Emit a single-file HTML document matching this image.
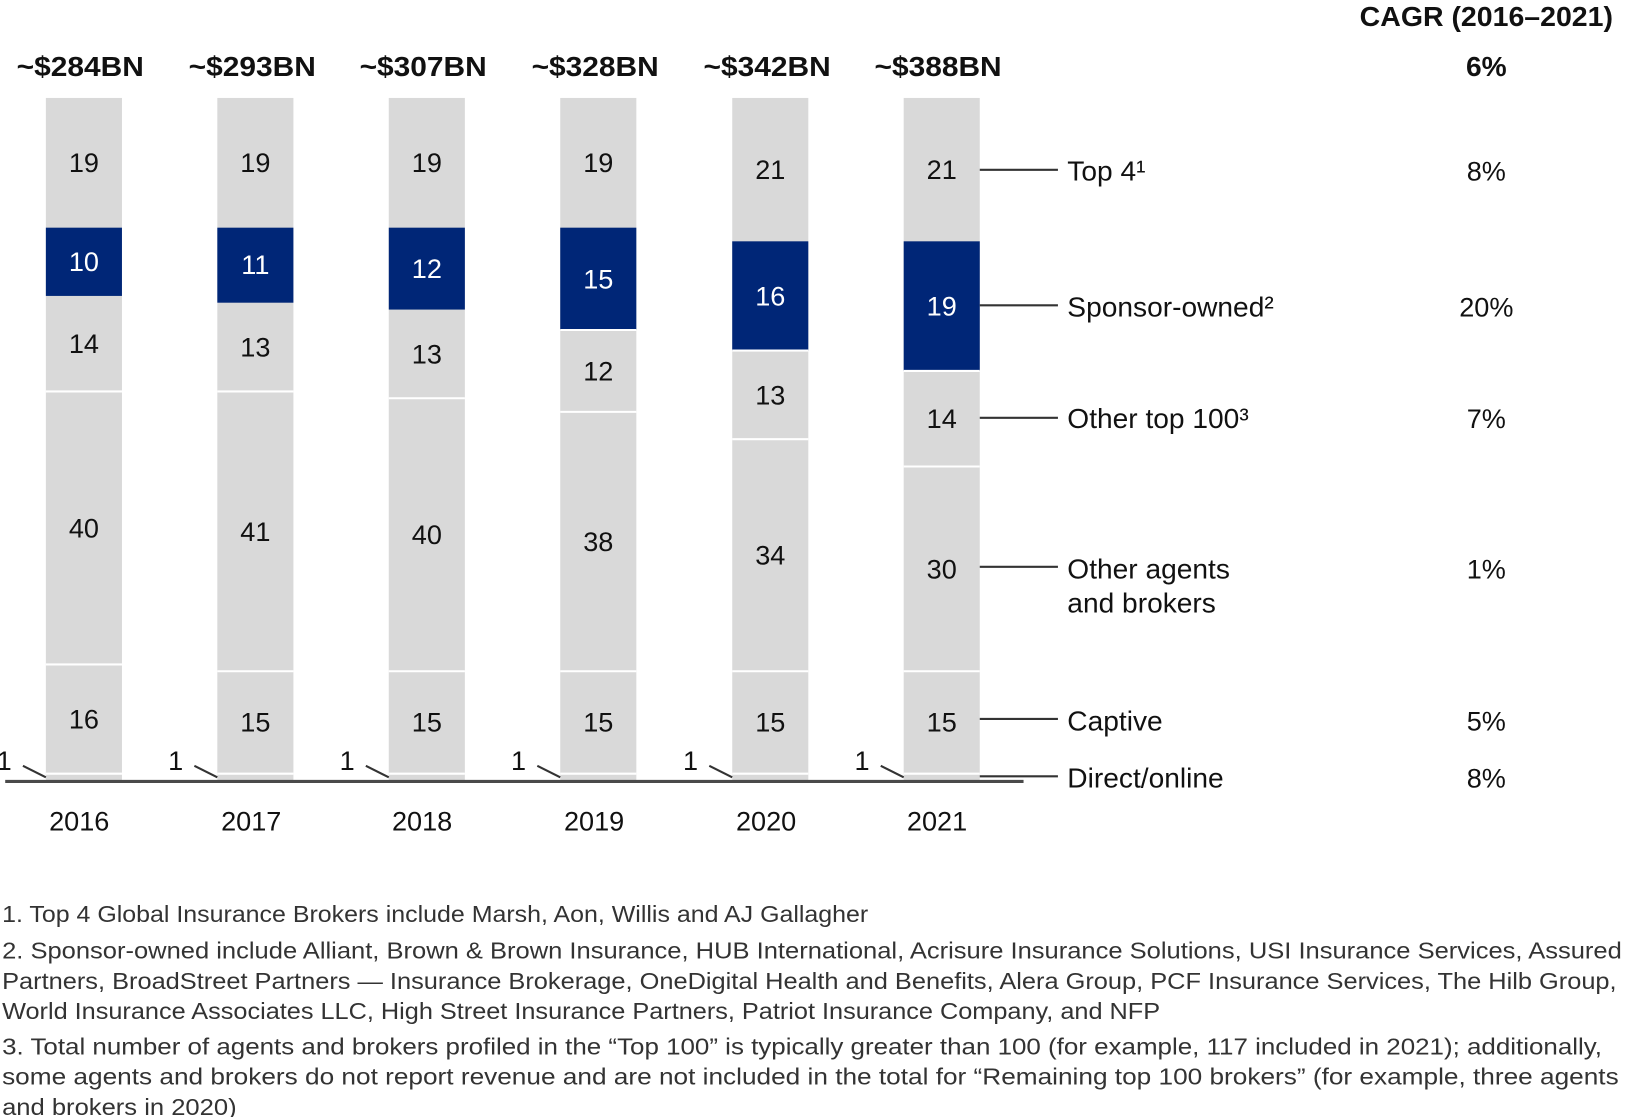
<!DOCTYPE html>
<html><head><meta charset="utf-8"><style>html,body{margin:0;padding:0;background:#fff}svg{display:block}</style></head>
<body>
<svg width="1626" height="1117" viewBox="0 0 1560 1072" preserveAspectRatio="none" xmlns="http://www.w3.org/2000/svg" font-family="Liberation Sans, sans-serif">
<defs>
<g id="base"><rect x="0" y="94" width="73" height="655" fill="#d9d9d9"/><text x="-40" y="739" font-size="26" fill="#111">1</text><line x1="-22" y1="735" x2="0" y2="746" stroke="#333" stroke-width="2"/><line x1="0" x2="73" y1="742.5" y2="742.5" stroke="#fff" stroke-width="2"/></g>
<line id="c15" x1="0" x2="73" y1="644.2" y2="644.2" stroke="#fff" stroke-width="2"/>
</defs>
<g font-size="26" fill="#111" text-anchor="middle">
<g transform="translate(44,0)"><use href="#base"/><rect x="0" y="218.5" width="73" height="65.5" fill="#002677"/><line x1="0" x2="73" y1="637.7" y2="637.7" stroke="#fff" stroke-width="2"/><line x1="0" x2="73" y1="375.7" y2="375.7" stroke="#fff" stroke-width="2"/>
<text x="36.5" y="699">16</text><text x="36.5" y="516">40</text><text x="36.5" y="339">14</text><text x="36.5" y="260" fill="#fff">10</text><text x="36.5" y="165">19</text></g>
<g transform="translate(208.5,0)"><use href="#base"/><use href="#c15"/><rect x="0" y="218.5" width="73" height="72" fill="#002677"/><line x1="0" x2="73" y1="375.7" y2="375.7" stroke="#fff" stroke-width="2"/>
<text x="36.5" y="702">15</text><text x="36.5" y="519">41</text><text x="36.5" y="342">13</text><text x="36.5" y="263" fill="#fff">11</text><text x="36.5" y="165">19</text></g>
<g transform="translate(373,0)"><use href="#base"/><use href="#c15"/><rect x="0" y="218.5" width="73" height="78.6" fill="#002677"/><line x1="0" x2="73" y1="382.2" y2="382.2" stroke="#fff" stroke-width="2"/>
<text x="36.5" y="702">15</text><text x="36.5" y="522">40</text><text x="36.5" y="349">13</text><text x="36.5" y="267" fill="#fff">12</text><text x="36.5" y="165">19</text></g>
<g transform="translate(537.5,0)"><use href="#base"/><use href="#c15"/><rect x="0" y="218.5" width="73" height="98.2" fill="#002677"/><line x1="0" x2="73" y1="316.7" y2="316.7" stroke="#fff" stroke-width="2"/><line x1="0" x2="73" y1="395.3" y2="395.3" stroke="#fff" stroke-width="2"/>
<text x="36.5" y="702">15</text><text x="36.5" y="529">38</text><text x="36.5" y="365">12</text><text x="36.5" y="277" fill="#fff">15</text><text x="36.5" y="165">19</text></g>
<g transform="translate(702.5,0)"><use href="#base"/><use href="#c15"/><rect x="0" y="231.6" width="73" height="104.8" fill="#002677"/><line x1="0" x2="73" y1="336.4" y2="336.4" stroke="#fff" stroke-width="2"/><line x1="0" x2="73" y1="421.5" y2="421.5" stroke="#fff" stroke-width="2"/>
<text x="36.5" y="702">15</text><text x="36.5" y="542">34</text><text x="36.5" y="388">13</text><text x="36.5" y="293" fill="#fff">16</text><text x="36.5" y="172">21</text></g>
<g transform="translate(867,0)"><use href="#base"/><use href="#c15"/><rect x="0" y="231.6" width="73" height="124.4" fill="#002677"/><line x1="0" x2="73" y1="356" y2="356" stroke="#fff" stroke-width="2"/><line x1="0" x2="73" y1="447.7" y2="447.7" stroke="#fff" stroke-width="2"/>
<text x="36.5" y="702">15</text><text x="36.5" y="555">30</text><text x="36.5" y="411">14</text><text x="36.5" y="303" fill="#fff">19</text><text x="36.5" y="172">21</text></g>
</g>
<line x1="5" y1="750" x2="982" y2="750" stroke="#4a4a4a" stroke-width="3"/>
<g font-size="27" fill="#111" text-anchor="middle" font-weight="bold">
<text x="77" y="73" textLength="122" lengthAdjust="spacingAndGlyphs">~$284BN</text><text x="242" y="73" textLength="122" lengthAdjust="spacingAndGlyphs">~$293BN</text><text x="406" y="73" textLength="122" lengthAdjust="spacingAndGlyphs">~$307BN</text>
<text x="571" y="73" textLength="122" lengthAdjust="spacingAndGlyphs">~$328BN</text><text x="736" y="73" textLength="122" lengthAdjust="spacingAndGlyphs">~$342BN</text><text x="900" y="73" textLength="122" lengthAdjust="spacingAndGlyphs">~$388BN</text>
<text x="1426" y="25" textLength="243" lengthAdjust="spacingAndGlyphs">CAGR (2016–2021)</text><text x="1426" y="73">6%</text>
</g>
<g font-size="26" fill="#111" text-anchor="middle">
<text x="76" y="797">2016</text><text x="241" y="797">2017</text><text x="405" y="797">2018</text>
<text x="570" y="797">2019</text><text x="735" y="797">2020</text><text x="899" y="797">2021</text>
<text x="1426" y="173">8%</text><text x="1426" y="304">20%</text><text x="1426" y="411">7%</text>
<text x="1426" y="555">1%</text><text x="1426" y="701">5%</text><text x="1426" y="756">8%</text>
</g>
<g stroke="#333" stroke-width="2">
<line x1="940" y1="163" x2="1015" y2="163"/><line x1="940" y1="293" x2="1015" y2="293"/>
<line x1="940" y1="401" x2="1015" y2="401"/><line x1="940" y1="544" x2="1015" y2="544"/>
<line x1="940" y1="690" x2="1015" y2="690"/><line x1="940" y1="745" x2="1015" y2="745"/>
</g>
<g font-size="27" fill="#111">
<text x="1024" y="173">Top 4¹</text><text x="1024" y="304">Sponsor-owned²</text>
<text x="1024" y="411">Other top 100³</text><text x="1024" y="555">Other agents</text>
<text x="1024" y="588">and brokers</text><text x="1024" y="701">Captive</text><text x="1024" y="756">Direct/online</text>
</g>
<g font-size="22" fill="#333">
<text x="2" y="885" textLength="831" lengthAdjust="spacingAndGlyphs">1. Top 4 Global Insurance Brokers include Marsh, Aon, Willis and AJ Gallagher</text>
<text x="2" y="920" textLength="1554" lengthAdjust="spacingAndGlyphs">2. Sponsor-owned include Alliant, Brown &amp; Brown Insurance, HUB International, Acrisure Insurance Solutions, USI Insurance Services, Assured</text>
<text x="2" y="949" textLength="1549" lengthAdjust="spacingAndGlyphs">Partners, BroadStreet Partners — Insurance Brokerage, OneDigital Health and Benefits, Alera Group, PCF Insurance Services, The Hilb Group,</text>
<text x="2" y="978" textLength="1111" lengthAdjust="spacingAndGlyphs">World Insurance Associates LLC, High Street Insurance Partners, Patriot Insurance Company, and NFP</text>
<text x="2" y="1012" textLength="1535" lengthAdjust="spacingAndGlyphs">3. Total number of agents and brokers profiled in the “Top 100” is typically greater than 100 (for example, 117 included in 2021); additionally,</text>
<text x="2" y="1041" textLength="1551" lengthAdjust="spacingAndGlyphs">some agents and brokers do not report revenue and are not included in the total for “Remaining top 100 brokers” (for example, three agents</text>
<text x="2" y="1070" textLength="225" lengthAdjust="spacingAndGlyphs">and brokers in 2020)</text>
</g>
</svg>
</body></html>
